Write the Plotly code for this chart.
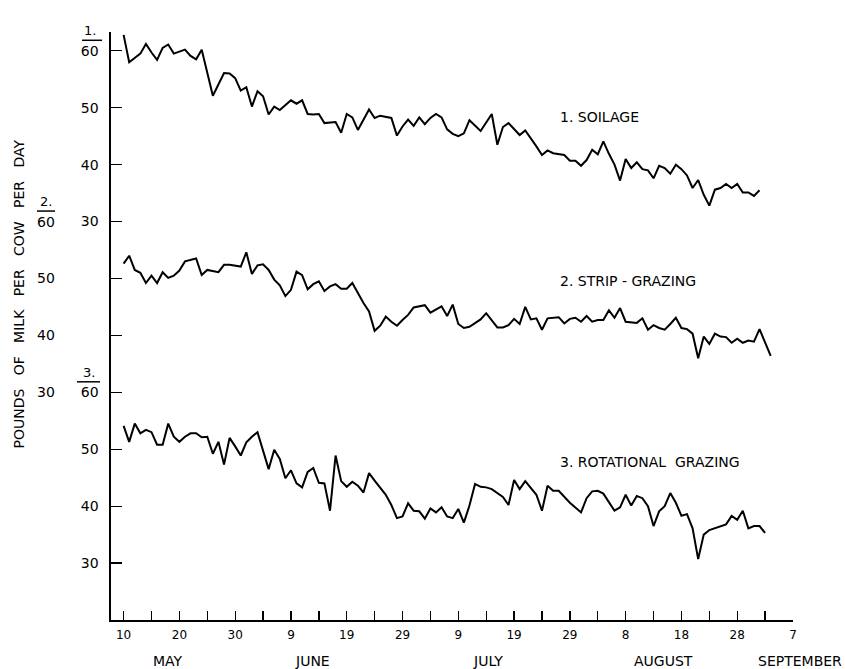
import plotly.graph_objects as go

# ---------------- data (days after 10 May, lbs of milk per cow per day) ----------------
soilage_days = [0, 1, 3, 4, 5, 6, 7, 8, 9, 11, 12, 13, 14, 16, 18, 19, 20, 21, 22, 23, 24, 25, 26, 27, 28,
                30, 31, 32, 33, 34, 35, 36, 38, 39, 40, 41, 42, 44, 45, 46, 48, 49, 50, 51, 52, 53, 54, 55,
                56, 57, 58, 59, 60, 61, 62, 64, 66, 67, 68, 69, 71, 72, 74, 75, 76, 77, 79, 80, 81, 82, 83,
                84, 85, 86, 87, 88, 89, 90, 91, 92, 93, 94, 95, 96, 97, 98, 99, 100, 101, 102, 103, 104, 105,
                106, 107, 108, 109, 110, 111, 112, 113, 114]
soilage_lbs = [62.8, 58.0, 59.5, 61.2, 59.7, 58.4, 60.5, 61.1, 59.5, 60.2, 59.1, 58.5, 60.2, 52.1, 56.1, 56.0,
               55.2, 53.0, 53.6, 50.2, 52.9, 52.0, 48.8, 50.2, 49.6, 51.3, 50.7, 51.3, 48.9, 48.8, 48.9, 47.3,
               47.5, 45.6, 48.9, 48.3, 46.1, 49.7, 48.2, 48.6, 48.2, 45.1, 46.7, 47.9, 46.8, 48.3, 47.1, 48.2,
               48.9, 48.3, 46.2, 45.4, 45.0, 45.5, 47.8, 45.9, 48.9, 43.5, 46.6, 47.3, 45.2, 46.0, 43.2, 41.7,
               42.5, 42.0, 41.7, 40.7, 40.7, 39.8, 40.8, 42.6, 41.8, 44.1, 41.9, 40.0, 37.2, 41.0, 39.4, 40.4,
               39.2, 39.0, 37.6, 39.8, 39.4, 38.4, 40.0, 39.2, 38.1, 35.9, 37.3, 34.7, 32.8, 35.6, 35.9, 36.6,
               35.9, 36.6, 35.1, 35.1, 34.5, 35.5]

strip_days = [0, 1, 2, 3, 4, 5, 6, 7, 8, 9, 10, 11, 13, 14, 15, 17, 18, 19, 21, 22, 23, 24, 25, 26, 27, 28,
              29, 30, 31, 32, 33, 34, 35, 36, 37, 38, 39, 40, 41, 42, 43, 44, 45, 46, 47, 48, 49, 50, 51, 52,
              53, 54, 55, 56, 57, 58, 59, 60, 61, 62, 64, 65, 66, 67, 68, 69, 70, 71, 72, 73, 74, 75, 76, 78,
              79, 80, 81, 82, 83, 84, 85, 86, 87, 88, 89, 90, 92, 93, 94, 95, 96, 97, 98, 99, 100, 101, 102,
              103, 104, 105, 106, 107, 108, 109, 110, 111, 112, 113, 114, 115, 116]
strip_lbs = [52.6, 54.0, 51.5, 51.0, 49.2, 50.5, 49.2, 51.1, 50.1, 50.5, 51.4, 53.0, 53.5, 50.6, 51.5, 51.1,
             52.4, 52.4, 52.1, 54.6, 50.8, 52.3, 52.5, 51.5, 49.8, 48.8, 46.9, 48.0, 51.2, 50.6, 48.1, 49.0,
             49.5, 47.8, 48.6, 49.0, 48.2, 48.2, 49.2, 47.4, 45.7, 44.2, 40.8, 41.7, 43.3, 42.4, 41.7, 42.7,
             43.6, 44.9, 45.1, 45.3, 44.0, 44.5, 45.1, 43.4, 45.4, 42.0, 41.3, 41.5, 42.8, 43.9, 42.7, 41.4,
             41.4, 41.8, 42.9, 42.0, 45.0, 42.8, 43.0, 41.0, 43.0, 43.2, 42.1, 42.9, 43.1, 42.4, 43.4, 42.4,
             42.7, 42.7, 44.4, 43.1, 44.8, 42.4, 42.2, 43.0, 41.0, 41.8, 41.3, 41.0, 42.0, 43.1, 41.3, 41.1,
             40.3, 36.0, 39.8, 38.5, 40.3, 39.8, 39.7, 38.7, 39.4, 38.7, 39.1, 38.9, 41.1, 38.9, 36.4]

rotational_days = [0, 1, 2, 3, 4, 5, 6, 7, 8, 9, 10, 11, 12, 13, 14, 15, 16, 17, 18, 19, 20, 21, 22, 23, 24,
                   26, 27, 28, 29, 30, 31, 32, 33, 34, 35, 36, 37, 38, 39, 40, 41, 42, 43, 44, 45, 46, 47, 48,
                   49, 50, 51, 52, 53, 54, 55, 56, 57, 58, 59, 60, 61, 62, 63, 64, 65, 66, 68, 69, 70, 71, 72,
                   74, 75, 76, 77, 78, 80, 82, 83, 84, 85, 86, 87, 88, 89, 90, 91, 92, 93, 94, 95, 96, 97, 98,
                   99, 100, 101, 102, 103, 104, 105, 106, 107, 108, 109, 110, 111, 112, 113, 114, 115]
rotational_lbs = [54.1, 51.3, 54.5, 52.8, 53.4, 53.0, 50.8, 50.8, 54.5, 52.2, 51.3, 52.2, 52.8, 52.8, 52.1,
                  52.2, 49.2, 51.3, 47.3, 52.0, 50.5, 48.9, 51.2, 52.2, 53.0, 46.5, 49.9, 48.3, 44.9, 46.3,
                  44.0, 43.3, 46.0, 46.7, 44.1, 44.0, 39.2, 48.9, 44.4, 43.4, 44.3, 43.6, 42.4, 45.8, 44.5,
                  43.3, 42.0, 40.2, 37.9, 38.2, 40.5, 39.2, 39.1, 37.8, 39.6, 38.9, 39.8, 38.2, 37.9, 39.5,
                  37.1, 40.1, 43.9, 43.4, 43.3, 43.0, 41.6, 40.2, 44.6, 43.0, 44.4, 42.0, 39.2, 43.6, 42.7,
                  42.7, 40.6, 38.9, 41.4, 42.6, 42.7, 42.2, 40.8, 39.2, 39.8, 42.0, 40.1, 41.8, 41.4, 40.0,
                  36.5, 39.1, 40.0, 42.3, 40.6, 38.3, 38.6, 36.1, 30.7, 35.0, 35.8, 36.1, 36.5, 36.8, 38.3,
                  37.6, 39.2, 36.1, 36.5, 36.5, 35.3]

series_names = ["1. SOILAGE", "2. STRIP - GRAZING", "3. ROTATIONAL  GRAZING"]
series_offsets = [0, 30, 60]          # each scale is shifted down by 30 lbs

x_tick_days = [0, 10, 20, 30, 40, 50, 60, 70, 80, 90, 100, 110, 120]
x_tick_labels = ["10", "20", "30", "9", "19", "29", "9", "19", "29", "8", "18", "28", "7"]
x_minor_days = [5, 15, 25, 35, 45, 55, 65, 75, 85, 95, 105, 115]
months = ["MAY", "JUNE", "JULY", "AUGUST", "SEPTEMBER"]
month_days = [8.0, 33.8, 65.4, 96.8, 121.3]

y_tick_levels = [-30, -20, -10, 0, 10, 20, 30, 40, 50, 60]
y_tick_labels = ["30", "40", "50", "60", "", "", "30", "40", "50", "60"]
y2_levels = [30, 20, 10, 0]
y2_labels = ["60", "50", "40", "30"]

FONT = "DejaVu Sans"
X_RANGE = [-2.26, 120]
Y_RANGE = [-40, 63.3]
W, H = 845, 669
L, R, T, B = 111, 52, 32, 49
PW = W - L - R
PH = H - T - B


def sx(px):          # screen x pixel -> paper x
    return (px - L) / PW


def sy(py):          # screen y pixel -> paper y
    return (H - B - py) / PH


def lvl(v):          # level -> paper y
    return (v - Y_RANGE[0]) / (Y_RANGE[1] - Y_RANGE[0])


PX_PER_LEVEL = PH / (Y_RANGE[1] - Y_RANGE[0])

fig = go.Figure()
for days, lbs, off in [(soilage_days, soilage_lbs, series_offsets[0]),
                       (strip_days, strip_lbs, series_offsets[1]),
                       (rotational_days, rotational_lbs, series_offsets[2])]:
    fig.add_trace(go.Scatter(x=days, y=[v - off for v in lbs], mode="lines",
                             line=dict(color="black", width=2), hoverinfo="skip",
                             showlegend=False))

annotations = []
# second column of y labels (strip-grazing scale)
for lv, txt in zip(y2_levels, y2_labels):
    annotations.append(dict(x=sx(57), xref="paper", y=lvl(lv), yref="paper", text=txt,
                            showarrow=False, xanchor="right", yanchor="middle",
                            font=dict(family=FONT, size=14, color="black")))
# fraction numbers
frac = [("1.", 60, 90), ("2.", 30, 46), ("3.", 0, 89)]
for txt, lv, cx in frac:
    annotations.append(dict(x=sx(cx), xref="paper", y=lvl(lv + 20 / PX_PER_LEVEL), yref="paper",
                            text=txt, showarrow=False, xanchor="center", yanchor="middle",
                            font=dict(family=FONT, size=13, color="black")))
shapes = []
bars = [(60, 82, 102), (30, 37, 55), (0, 77, 100)]
for lv, x0, x1 in bars:
    yb = lvl(lv + 10.5 / PX_PER_LEVEL)
    shapes.append(dict(type="line", xref="paper", yref="paper", x0=sx(x0), x1=sx(x1),
                       y0=yb, y1=yb, line=dict(color="black", width=1.5)))

# series labels
label_levels = [48.3, 19.6, -12.3]
for name, lv in zip(series_names, label_levels):
    annotations.append(dict(x=77.9, xref="x", y=lvl(lv), yref="paper", text=name, showarrow=False,
                            xanchor="left", yanchor="middle",
                            font=dict(family=FONT, size=14, color="black")))
# month labels
for m, d in zip(months, month_days):
    annotations.append(dict(x=(d - X_RANGE[0]) / (X_RANGE[1] - X_RANGE[0]), xref="paper",
                            y=sy(660.7), yref="paper", text=m, showarrow=False,
                            xanchor="center", yanchor="middle",
                            font=dict(family=FONT, size=14, color="black")))
# y title
sp = "\u00a0\u00a0\u00a0"
ytitle = sp.join(["POUNDS", "OF", "MILK", "PER", "COW", "PER", "DAY"])
annotations.append(dict(x=sx(18), xref="paper", y=sy(294.5), yref="paper", text=ytitle,
                        textangle=-90, showarrow=False, xanchor="center", yanchor="middle",
                        font=dict(family=FONT, size=14, color="black")))

fig.update_layout(
    width=W, height=H,
    margin=dict(l=L, r=R, t=T, b=B, pad=0, autoexpand=False),
    paper_bgcolor="white", plot_bgcolor="white",
    showlegend=False,
    annotations=annotations,
    shapes=shapes,
    xaxis=dict(range=X_RANGE, showline=True, linecolor="black", linewidth=2,
               showgrid=False, zeroline=False,
               tickmode="array", tickvals=x_tick_days, ticktext=x_tick_labels,
               ticks="inside", ticklen=9, tickwidth=1.3, tickcolor="black",
               ticklabelstandoff=3,
               tickfont=dict(family=FONT, size=12, color="black"),
               minor=dict(tickmode="array", tickvals=x_minor_days, ticks="inside", ticklen=9,
                          tickwidth=1.3, tickcolor="black", showgrid=False),
               fixedrange=True),
    yaxis=dict(range=Y_RANGE, showline=True, linecolor="black", linewidth=2.5,
               showgrid=False, zeroline=False,
               tickmode="array", tickvals=y_tick_levels, ticktext=y_tick_labels,
               ticks="inside", ticklen=11, tickwidth=1.3, tickcolor="black",
               ticklabelstandoff=7,
               tickfont=dict(family=FONT, size=14, color="black"),
               fixedrange=True),
)

fig.write_html("out.html",
               config={"displayModeBar": False, "staticPlot": True},
               post_script="document.body.style.margin='0';document.body.style.overflow='hidden';")
